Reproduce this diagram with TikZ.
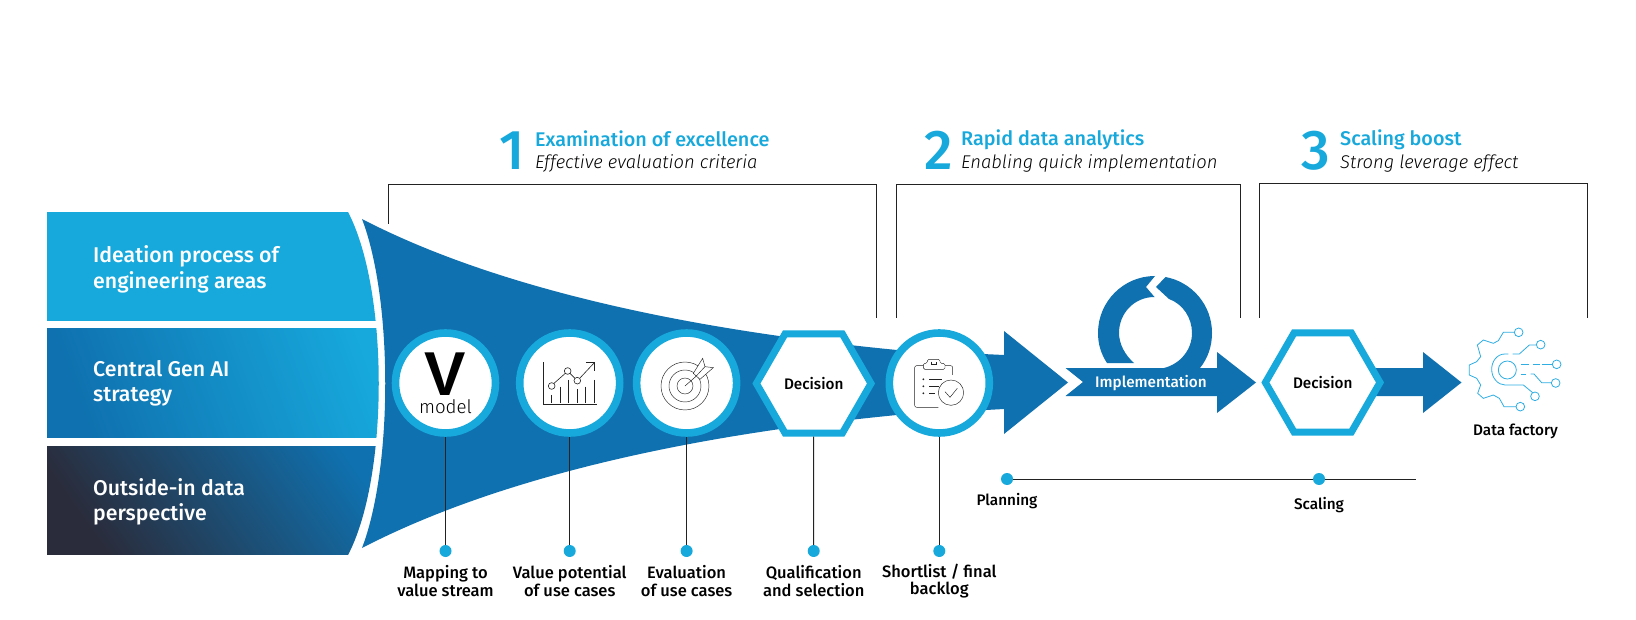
\documentclass[tikz,border=0pt]{standalone}
\usepackage{fontspec}
\usetikzlibrary{shapes.geometric}
\setmainfont{Fira Sans}
\newfontfamily\med{Fira Sans Medium}
\newfontfamily\lite[ItalicFont={Fira Sans Light Italic}]{Fira Sans Light}
\newfontfamily\vfont{Liberation Sans}
\definecolor{sky}{HTML}{17A9DC}
\definecolor{deep}{HTML}{0F71AF}
\definecolor{ink}{HTML}{222222}
\definecolor{iconblue}{HTML}{2FAEE3}
\definecolor{dusk}{HTML}{2A2C3B}
\definecolor{slate}{HTML}{2F5478}
\tikzset{
  x=1pt,y=-1pt,
  ringnode/.style={circle,draw=sky,fill=white,line width=7.6pt,minimum size=100pt,inner sep=0pt},
  hexnode/.style={regular polygon,regular polygon sides=6,draw=sky,fill=white,line width=7pt,minimum size=114.6pt,inner sep=0pt,miter limit=10,font=\med\fontsize{15.3}{18}\selectfont,text=black},
  dotnode/.style={circle,fill=sky,minimum size=12pt,inner sep=0pt},
  leader/.style={draw=ink,line width=1pt},
  caption/.style={font=\med\fontsize{16.5}{17.5}\selectfont,align=center,text=black,inner sep=0pt},
  smallcap/.style={font=\med\fontsize{15.3}{17.5}\selectfont,align=center,text=black,inner sep=0pt},
  boxtext/.style={font=\med\fontsize{21.3}{25.5}\selectfont,align=left,text=white,anchor=west,inner sep=0pt},
  bignum/.style={font=\med\fontsize{56}{56}\selectfont,text=sky,inner sep=0pt},
  headtitle/.style={font=\med\fontsize{19.8}{22}\selectfont,text=sky,anchor=west,inner sep=0pt},
  headsub/.style={font=\lite\itshape\fontsize{18.4}{22}\selectfont,text=black,anchor=west,inner sep=0pt},
  icon/.style={draw=ink,line width=0.45pt},
  fac/.style={draw=iconblue,line width=0.8pt,fill=none},
}
\begin{document}
\begin{tikzpicture}
\useasboundingbox (0,0) rectangle (1636,620);
\fill[white] (0,0) rectangle (1636,620);
% boxes
\begin{scope}
\clip (40,212) -- (348,212) .. controls (389,290) and (389,477) .. (348,555) -- (40,555) -- cycle;
\fill[sky] (47,212) rectangle (400,321);
\shade[left color=deep,right color=sky,shading angle=110] (47,329) rectangle (400,437.5);
\shade[left color=dusk,middle color=slate,right color=deep,shading angle=125] (47,446) rectangle (400,554.5);
\end{scope}
% funnel and first arrow
\fill[deep] (362,219) .. controls (470,275) and (640,325) .. (897,350) -- (1004,355) -- (1004,331) -- (1068,382.5) -- (1004,434) -- (1004,409) -- (897,415) .. controls (640,440) and (470,492) .. (362,548) .. controls (393,467) and (393,300) .. (362,219) -- cycle;
% implementation arrow
\fill[deep] (1065.5,368) -- (1217,368) -- (1217,352) -- (1256,382.5) -- (1217,413) -- (1217,396) -- (1065.5,396) -- (1083,382) -- cycle;
\fill[deep] (1107,363) .. controls (1101,354) and (1098,344) .. (1098,333) .. controls (1098,301.5) and (1123.5,276) .. (1155,276) -- (1146,287) -- (1154.5,297) .. controls (1134.5,297) and (1119,313) .. (1119,333) .. controls (1119,344) and (1125,355) .. (1134,363) -- cycle;
\fill[deep] (1165.5,277) -- (1156,287) -- (1169,299) .. controls (1183,304) and (1192,318) .. (1192,333) .. controls (1192,350) and (1180,364) .. (1164,368) -- (1200,368) .. controls (1208,358) and (1212,346) .. (1212,333) .. controls (1212,305) and (1192,282) .. (1165.5,277) -- cycle;
% third arrow
\fill[deep] (1370,368) -- (1423,368) -- (1423,352) -- (1461.5,382.5) -- (1423,413) -- (1423,396) -- (1370,396) -- cycle;
% brackets
\coordinate (b1a) at (388,224); \coordinate (b1b) at (388,184.5); \coordinate (b1c) at (876.5,184.5); \coordinate (b1d) at (876.5,318);
\coordinate (b2a) at (896,318); \coordinate (b2b) at (896,184.5); \coordinate (b2c) at (1240.5,184.5); \coordinate (b2d) at (1240.5,318);
\coordinate (b3a) at (1259.5,318); \coordinate (b3b) at (1259.5,183.5); \coordinate (b3c) at (1587.5,183.5); \coordinate (b3d) at (1587.5,318);
\draw[leader] (b1a) -- (b1b) -- (b1c) -- (b1d);
\draw[leader] (b2a) -- (b2b) -- (b2c) -- (b2d);
\draw[leader] (b3a) -- (b3b) -- (b3c) -- (b3d);
% stage nodes
\node[ringnode] (c1) at (445.5,383) {};
\node[ringnode] (c2) at (569.7,383) {};
\node[ringnode] (c3) at (686.6,383) {};
\node[hexnode] (h1) at (813.7,383.5) {Decision};
\node[ringnode] (c4) at (939.3,383) {};
\node[hexnode] (h2) at (1322.7,382.5) {Decision};
% dots
\node[dotnode] (d1) at (445.5,551) {};
\node[dotnode] (d2) at (569.7,551) {};
\node[dotnode] (d3) at (686.6,551) {};
\node[dotnode] (d4) at (813.7,551) {};
\node[dotnode] (d5) at (939.3,551) {};
\draw[leader] (c1.south) -- (d1);
\draw[leader] (c2.south) -- (d2);
\draw[leader] (c3.south) -- (d3);
\draw[leader] (h1.south) -- (d4);
\draw[leader] (c4.south) -- (d5);
% captions
\node[caption] (t1) at (445.5,581) {Mapping to\\value stream};
\node[caption] (t2) at (569.7,581) {Value potential\\of use cases};
\node[caption] (t3) at (686.6,581) {Evaluation\\of use cases};
\node[caption] (t4) at (813.7,581) {Qualification\\and selection};
\node[caption] (t5) at (939.3,581) {Shortlist / final\\backlog};
% timeline
\node[dotnode] (p1) at (1007,479) {};
\node[dotnode] (p2) at (1319,479) {};
\coordinate (pend) at (1416,479);
\draw[leader] (p1) -- (p2);
\draw[leader] (p2) -- (pend);
\node[smallcap] (pl) at (1007,501.5) {Planning};
\node[smallcap] (sc) at (1319,505) {Scaling};
\node[smallcap] (df) at (1515.5,431) {Data factory};
\node[smallcap,text=white] (im) at (1151,383) {Implementation};
% left boxes text
\node[boxtext] (bx1) at (93,269.5) {Ideation process of\\engineering areas};
\node[boxtext] (bx2) at (93,383.5) {Central Gen AI\\strategy};
\node[boxtext] (bx3) at (93,502) {Outside-in data\\perspective};
% headers
\node[bignum] (n1) at (512,150.5) {1};
\node[bignum] (n2) at (939,150.5) {2};
\node[bignum] (n3) at (1316,150.5) {3};
\node[headtitle] (a1) at (535,139) {Examination of excellence};
\node[headsub] (a2) at (535,163.5) {Effective evaluation criteria};
\node[headtitle] (b1) at (961,139.5) {Rapid data analytics};
\node[headsub] (b2) at (961,163.5) {Enabling quick implementation};
\node[headtitle] (e1) at (1340,139.5) {Scaling boost};
\node[headsub] (e2) at (1340,163.5) {Strong leverage effect};
% V model
\node[inner sep=0pt,font=\vfont\bfseries\fontsize{62}{62}\selectfont,text=black] (vv) at (445.5,374) {V};
\node[inner sep=0pt,font=\lite\fontsize{18.7}{19}\selectfont,text=black] (vm) at (445.5,407) {model};
% value icon
\begin{scope}[shift={(510,330)},x=0.3333pt,y=-0.3333pt]
\draw[icon,line width=0.8pt] (100,97) -- (100,222) -- (260,222);
\foreach \xa/\ya in {125/195,152/170,175/150,202/178,227/170,253/150}{\draw[icon,line width=0.7pt] (\xa,\ya) -- (\xa,218);}
\draw[icon,line width=0.6pt] (125,168) circle[radius=10];
\draw[icon,line width=0.6pt] (173,123) circle[radius=10];
\draw[icon,line width=0.6pt] (202,152) circle[radius=10];
\draw[icon,line width=0.6pt] (132,160) -- (166,130);
\draw[icon,line width=0.6pt] (180,130) -- (195,145);
\draw[icon,line width=0.6pt] (209,145) -- (254,97);
\draw[icon,line width=0.6pt] (228,97) -- (254,97) -- (254,122);
% target icon
\draw[icon] (525,168) circle[radius=72];
\draw[icon] (525,168) circle[radius=48];
\draw[icon] (525,168) circle[radius=24];
\draw[icon] (525,168) -- (557,140);
\draw[icon,fill=white] (550,130) -- (578,85) -- (585,110) -- (610,113) -- (570,148) -- cycle;
\draw[icon] (557,140) -- (585,110);
\end{scope}
% clipboard icon
\begin{scope}[shift={(880,320)},x=0.3333pt,y=-0.3333pt]
\draw[icon,rounded corners=2pt] (175,262) -- (104,262) -- (104,137) -- (130,137);
\draw[icon,rounded corners=2pt] (195,137) -- (218,137) -- (218,165);
\draw[icon,rounded corners=1.5pt] (130,148) -- (130,130) -- (142,130) -- (142,118) -- (180,118) -- (180,130) -- (195,130) -- (195,148) -- cycle;
\draw[icon] (155,125) -- (155,132) -- (168,132) -- (168,125);
\fill[ink] (130,178) circle[radius=3];
\fill[ink] (130,199) circle[radius=3];
\fill[ink] (130,220) circle[radius=3];
\draw[icon] (148,178) -- (185,178);
\draw[icon] (148,199) -- (178,199);
\draw[icon] (148,220) -- (165,220);
\draw[icon,fill=white] (213,218) circle[radius=38];
\draw[icon] (195,215) -- (210,232) -- (232,205);
\end{scope}
% data factory icon
\begin{scope}[shift={(1440,310)},x=0.3333pt,y=-0.3333pt]
\draw[fac] (222,67) -- (190,67) -- (175,92) -- (160,100) -- (130,90) -- (112,105) -- (122,140) -- (110,155) -- (88,165) -- (88,195) -- (110,205) -- (122,225) -- (113,250) -- (130,265) -- (160,255) -- (178,265) -- (192,290) -- (228,290);
\draw[fac] (236,67) circle[radius=13];
\draw[fac] (241,290) circle[radius=13];
\draw[fac] (205,132) -- (195,132) .. controls (170,132) and (155,155) .. (155,178) .. controls (155,205) and (175,225) .. (195,225) -- (250,225) -- (278,248);
\draw[fac] (285,259) circle[radius=13];
\draw[fac] (218,132) -- (238,132) -- (268,105) -- (289,105);
\draw[fac] (302,104) circle[radius=13];
\draw[fac] (202,180) circle[radius=27];
\draw[fac] (243,163) -- (268,163);
\draw[fac] (280,163) -- (300,163);
\draw[fac] (305,163) -- (337,163);
\draw[fac] (350,163) circle[radius=13];
\draw[fac] (243,192) -- (258,192);
\draw[fac] (272,192) -- (282,192) -- (305,218) -- (334,218);
\draw[fac] (347,219) circle[radius=13];
\end{scope}
\end{tikzpicture}
\end{document}
